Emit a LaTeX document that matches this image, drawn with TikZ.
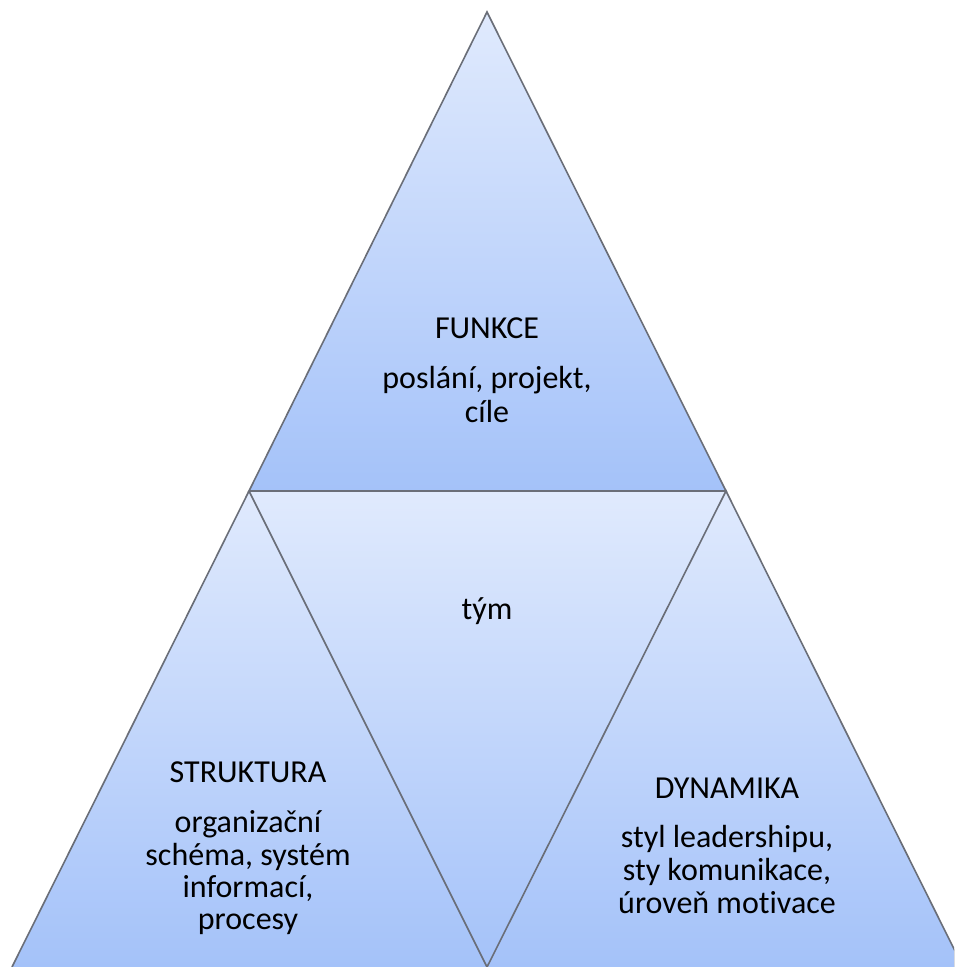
\documentclass[tikz,border=0pt]{standalone}
\usepackage{fontspec}
\setmainfont{Carlito}[Ligatures={NoCommon}]
\begin{document}
\begin{tikzpicture}[x=1pt,y=-1pt,
  txt/.style={font=\fontsize{32}{38}\selectfont,text=black,inner sep=0pt,anchor=base}]
\definecolor{topc}{HTML}{E0EAFD}
\definecolor{botc}{HTML}{A4C2F9}
\definecolor{edgec}{HTML}{6A6E78}
\tikzset{shade/.style={top color=topc,bottom color=botc},
  edge/.style={draw=edgec,line width=1.6pt,line join=miter}}
\useasboundingbox (0,0) rectangle (954,967);
\clip (0,0) rectangle (954,967);
\coordinate (A) at (487,12);
\coordinate (L) at (249,491);
\coordinate (R) at (726,491);
\coordinate (B) at (487,967);
\coordinate (BL) at (12,967);
\coordinate (BR) at (963,967);
\fill[shade] (A) -- (R) -- (L) -- cycle;
\fill[shade] (L) -- (B) -- (BL) -- cycle;
\fill[shade] (R) -- (BR) -- (B) -- cycle;
\fill[shade] (L) -- (R) -- (B) -- cycle;
\draw[edge] (A) -- (R) -- (L) -- cycle;
\draw[edge] (L) -- (BL) (L) -- (B) -- (R) -- (BR);
\node[txt] (f1) at (487,338) {FUNKCE};
\node[txt] (f2) at (487,388) {poslání, projekt,};
\node[txt] (f3) at (487,422) {cíle};
\node[txt] (t1) at (487,619) {tým};
\node[txt] (s1) at (248,782) {STRUKTURA};
\node[txt] (s2) at (248,832) {organizační};
\node[txt] (s3) at (248,865) {schéma, systém};
\node[txt] (s4) at (248,897) {informací,};
\node[txt] (s5) at (248,929) {procesy};
\node[txt] (d1) at (727,798) {DYNAMIKA};
\node[txt] (d2) at (727,847) {styl leadershipu,};
\node[txt] (d3) at (727,880) {sty komunikace,};
\node[txt] (d4) at (727,913) {úroveň motivace};
\end{tikzpicture}
\end{document}
